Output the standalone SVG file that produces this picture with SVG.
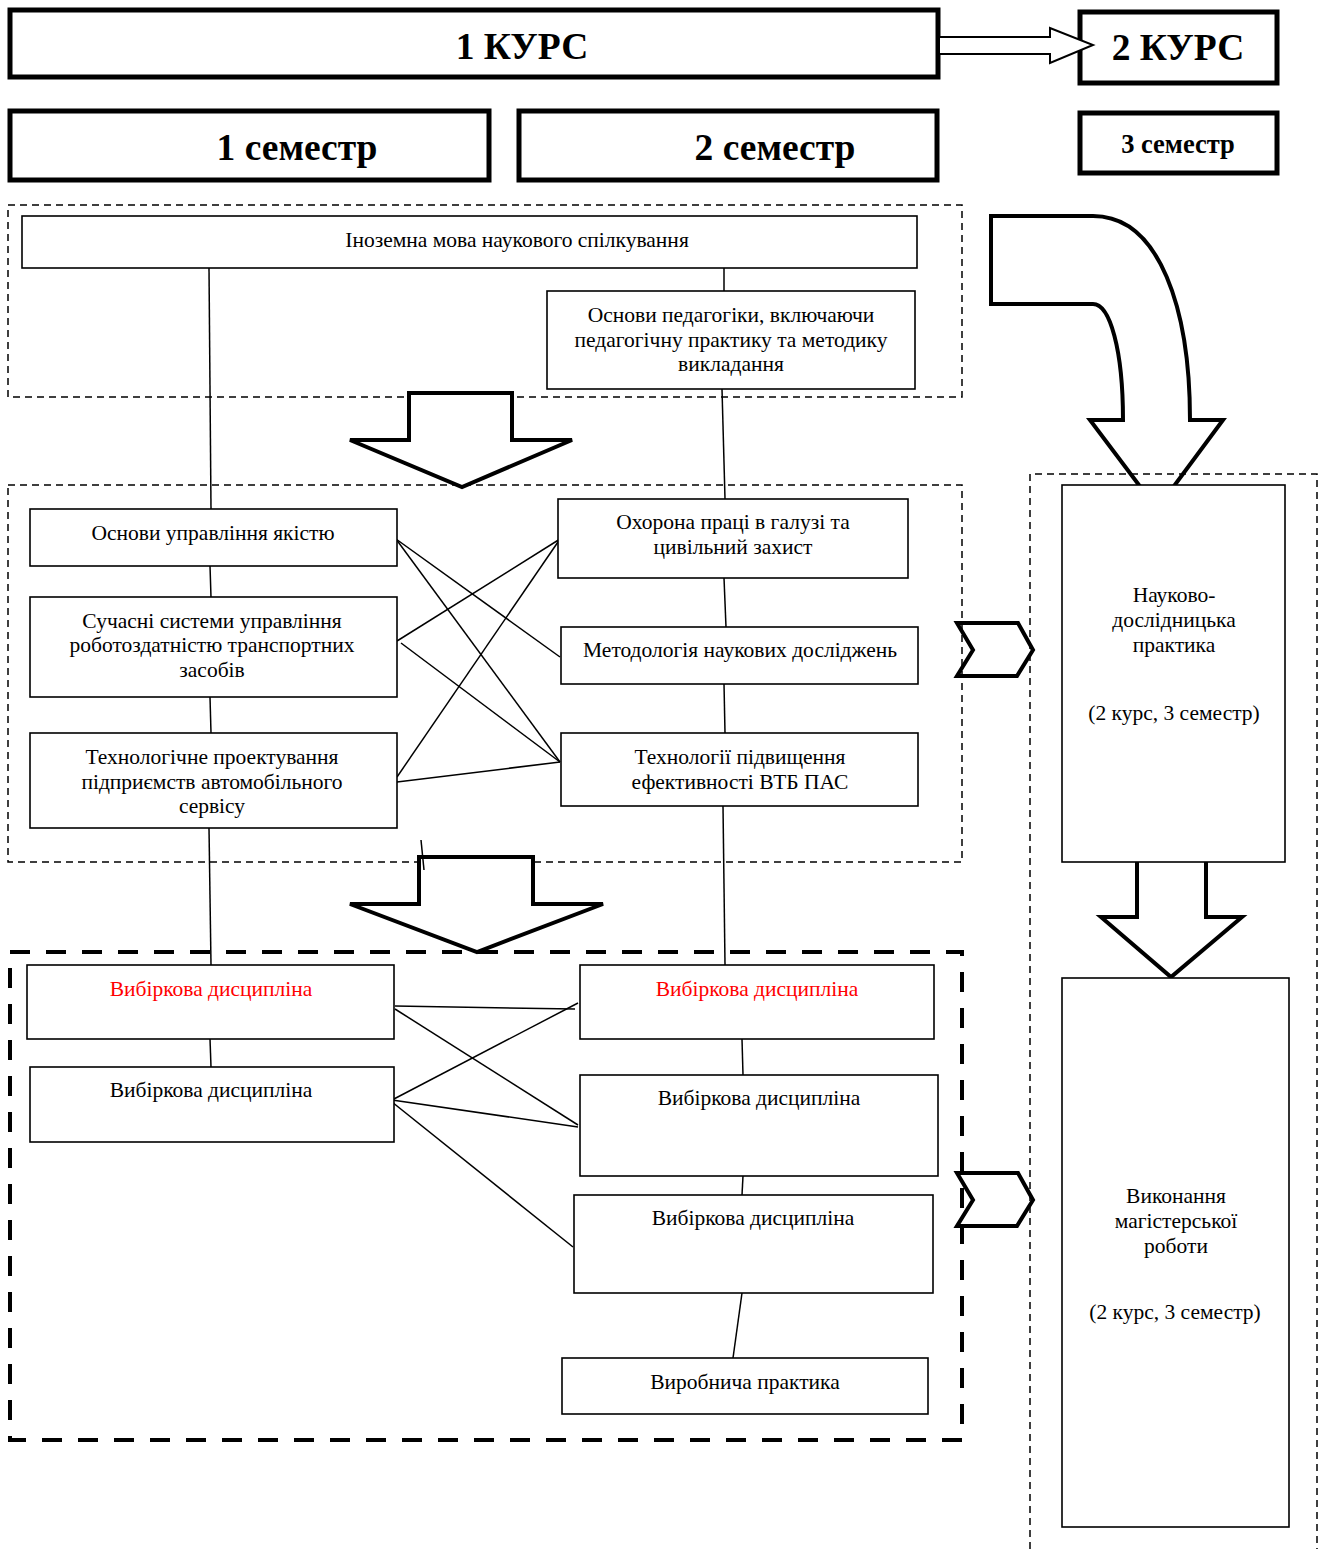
<svg xmlns="http://www.w3.org/2000/svg" width="1326" height="1549" viewBox="0 0 1326 1549">
<style>
.hdr{fill:#fff;stroke:#000;stroke-width:5}
.box{fill:#fff;stroke:#000;stroke-width:1.6}
.t{font-family:"Liberation Serif","Times New Roman",serif;font-size:21.5px;fill:#000;text-anchor:middle}
.red{fill:#ff0000}
.hb{font-family:"Liberation Serif","Times New Roman",serif;font-weight:bold;fill:#000;text-anchor:middle}
.dash{fill:none;stroke:#000;stroke-width:1.5;stroke-dasharray:7 5}
.bdash{fill:none;stroke:#000;stroke-width:4;stroke-dasharray:20 16}
.arr{fill:#fff;stroke:#000;stroke-width:4;stroke-linejoin:miter}
.ln{stroke:#000;stroke-width:1.5;fill:none}
</style>
<rect width="1326" height="1549" fill="#fff"/>

<g id="header">
<g id="kurs1"><rect class="hdr" x="10" y="10" width="928" height="67"/><text class="hb" x="522" y="59" font-size="37.5">1 КУРС</text></g>
<g id="kurs2"><rect class="hdr" x="1080" y="12" width="197" height="71"/><text class="hb" x="1178" y="60" font-size="37.5">2 КУРС</text></g>
<g id="sem1"><rect class="hdr" x="10" y="111" width="479" height="69"/><text class="hb" x="297" y="160" font-size="37.5">1 семестр</text></g>
<g id="sem2"><rect class="hdr" x="519" y="111" width="418" height="69"/><text class="hb" x="775" y="160" font-size="37.5">2 семестр</text></g>
<g id="sem3"><rect class="hdr" x="1080" y="113" width="197" height="60"/><text class="hb" x="1178" y="153" font-size="26.5">3 семестр</text></g>
</g>

<g id="connectors">
<path d="M940,37 H1050 V28 L1093,45 L1050,63 V54 H940" fill="#fff" stroke="#000" stroke-width="2"/>
<path class="arr" d="M957,623 H1018 L1033,650 L1017,676 H957 L973,650 Z"/>
<path class="arr" d="M957,1173 H1018 L1033,1200 L1017,1226 H957 L973,1200 Z"/>
<path class="arr" d="M991,216 H1093 C1160,216 1190,310 1190,420 H1223 L1157,509 L1090,420 H1123 C1123,350 1110,304 1093,304 H991 Z"/>
</g>

<g id="regions">
<rect class="dash" x="8" y="205" width="954" height="192"/>
<rect class="dash" x="8" y="485" width="954" height="377"/>
<rect class="bdash" x="10" y="952" width="952" height="488"/>
<path class="dash" d="M1030,1549 V474 H1317 V1549"/>
</g>

<g id="links">
<line class="ln" x1="209" y1="268" x2="211" y2="509"/>
<line class="ln" x1="210" y1="566" x2="211" y2="597"/>
<line class="ln" x1="210" y1="697" x2="211" y2="733"/>
<line class="ln" x1="209" y1="828" x2="211" y2="965"/>
<line class="ln" x1="724" y1="268" x2="724" y2="291"/>
<line class="ln" x1="722" y1="389" x2="725" y2="499"/>
<line class="ln" x1="724" y1="578" x2="726" y2="627"/>
<line class="ln" x1="724" y1="684" x2="725" y2="733"/>
<line class="ln" x1="723" y1="806" x2="725" y2="965"/>
<line class="ln" x1="396" y1="539" x2="560" y2="657"/>
<line class="ln" x1="396" y1="539" x2="560" y2="762"/>
<line class="ln" x1="560" y1="539" x2="397" y2="641"/>
<line class="ln" x1="560" y1="539" x2="397" y2="777"/>
<line class="ln" x1="401" y1="643" x2="560" y2="762"/>
<line class="ln" x1="397" y1="782" x2="560" y2="762"/>
<line class="ln" x1="210" y1="1039" x2="211" y2="1067"/>
<line class="ln" x1="742" y1="1039" x2="743" y2="1075"/>
<line class="ln" x1="743" y1="1176" x2="742" y2="1195"/>
<line class="ln" x1="742" y1="1293" x2="733" y2="1358"/>
<line class="ln" x1="395" y1="1006" x2="575" y2="1009"/>
<line class="ln" x1="395" y1="1009" x2="578" y2="1125"/>
<line class="ln" x1="578" y1="1003" x2="392" y2="1100"/>
<line class="ln" x1="392" y1="1100" x2="578" y2="1127"/>
<line class="ln" x1="387" y1="1098" x2="573" y2="1247"/>
<path class="arr" d="M409,393 H512 V440 H572 L462,487 L350,440 H409 Z"/>
<path class="arr" d="M419,857 H533 V904 H603 L477,952 L350,904 H419 Z"/>
<path class="arr" d="M1137,857 H1206 V917 H1242 L1171,977 L1101,917 H1137 Z"/>
<line class="ln" x1="421" y1="840" x2="424" y2="870"/>
</g>

<g id="n-inozemna"><rect class="box" x="22" y="216" width="895" height="52"/><text class="t" x="517" y="247">Іноземна мова наукового спілкування</text></g>
<g id="n-pedagog"><rect class="box" x="547" y="291" width="368" height="98"/><text class="t" x="731" y="322">Основи педагогіки, включаючи</text><text class="t" x="731" y="347">педагогічну практику та методику</text><text class="t" x="731" y="371">викладання</text></g>

<g id="n-yakist"><rect class="box" x="30" y="509" width="367" height="57"/><text class="t" x="213" y="540">Основи управління якістю</text></g>
<g id="n-suchasni"><rect class="box" x="30" y="597" width="367" height="100"/><text class="t" x="212" y="628">Сучасні системи управління</text><text class="t" x="212" y="652">роботоздатністю транспортних</text><text class="t" x="212" y="677">засобів</text></g>
<g id="n-tehnproekt"><rect class="box" x="30" y="733" width="367" height="95"/><text class="t" x="212" y="764">Технологічне проектування</text><text class="t" x="212" y="789">підприємств автомобільного</text><text class="t" x="212" y="813">сервісу</text></g>
<g id="n-ohorona"><rect class="box" x="558" y="499" width="350" height="79"/><text class="t" x="733" y="529">Охорона праці в галузі та</text><text class="t" x="733" y="554">цивільний захист</text></g>
<g id="n-metod"><rect class="box" x="561" y="627" width="357" height="57"/><text class="t" x="740" y="657">Методологія наукових досліджень</text></g>
<g id="n-vtb"><rect class="box" x="561" y="733" width="357" height="73"/><text class="t" x="740" y="764">Технології підвищення</text><text class="t" x="740" y="789">ефективності ВТБ ПАС</text></g>

<g id="n-vyb1"><rect class="box" x="27" y="965" width="367" height="74"/><text class="t red" x="211" y="996">Вибіркова дисципліна</text></g>
<g id="n-vyb2"><rect class="box" x="30" y="1067" width="364" height="75"/><text class="t" x="211" y="1097">Вибіркова дисципліна</text></g>
<g id="n-vyb3"><rect class="box" x="580" y="965" width="354" height="74"/><text class="t red" x="757" y="996">Вибіркова дисципліна</text></g>
<g id="n-vyb4"><rect class="box" x="580" y="1075" width="358" height="101"/><text class="t" x="759" y="1105">Вибіркова дисципліна</text></g>
<g id="n-vyb5"><rect class="box" x="574" y="1195" width="359" height="98"/><text class="t" x="753" y="1225">Вибіркова дисципліна</text></g>
<g id="n-vyrob"><rect class="box" x="562" y="1358" width="366" height="56"/><text class="t" x="745" y="1389">Виробнича практика</text></g>

<g id="n-nauk"><rect class="box" x="1062" y="485" width="223" height="377"/><text class="t" x="1174" y="602">Науково-</text><text class="t" x="1174" y="627">дослідницька</text><text class="t" x="1174" y="652">практика</text><text class="t" x="1174" y="720">(2 курс, 3 семестр)</text></g>
<g id="n-mag"><rect class="box" x="1062" y="978" width="227" height="549"/><text class="t" x="1176" y="1203">Виконання</text><text class="t" x="1176" y="1228">магістерської</text><text class="t" x="1176" y="1253">роботи</text><text class="t" x="1175" y="1319">(2 курс, 3 семестр)</text></g>
</svg>
